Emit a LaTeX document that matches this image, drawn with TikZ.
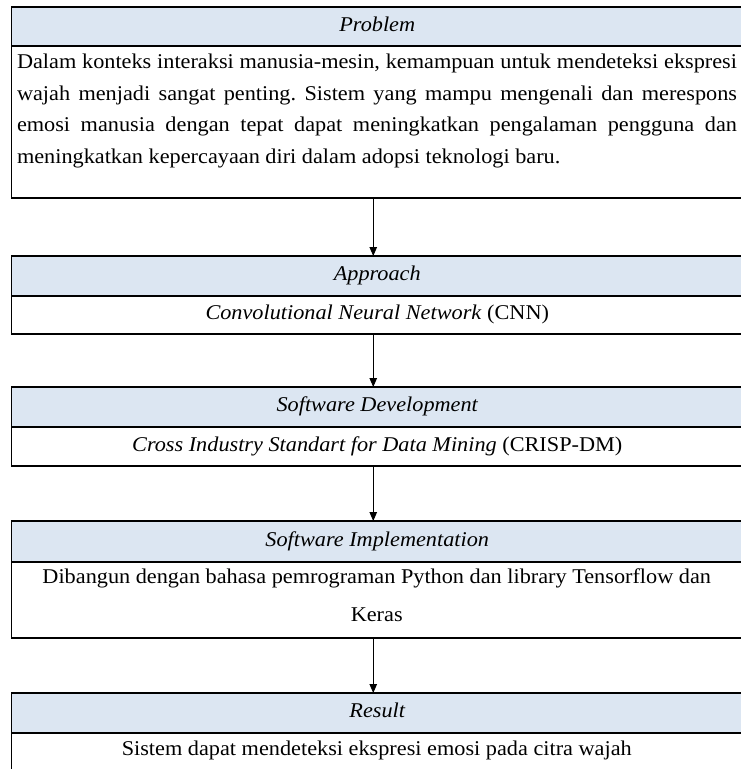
\documentclass[tikz,border=0pt]{standalone}
\usepackage{fontspec}
\setmainfont[FakeStretch=1.06]{Liberation Serif}
\usetikzlibrary{arrows.meta}
\definecolor{hdrblue}{HTML}{DCE6F2}
\frenchspacing
\begin{document}
\begin{tikzpicture}[x=1pt,y=-1pt,
  every node/.style={inner sep=0pt,outer sep=0pt},
  txt/.style={font=\fontsize{21pt}{31.5pt}\selectfont},
  hdr/.style={txt,fill=hdrblue,draw=black,line width=1.8pt,anchor=north west,
    minimum width=731.5pt,text height=14pt,text depth=4.5pt,font=\fontsize{21pt}{31.5pt}\selectfont\itshape},
  bdy/.style={txt,fill=white,draw=black,line width=1.8pt,anchor=north west,
    minimum width=731.5pt,text height=14pt,text depth=4.5pt},
  flow/.style={draw=black,line width=1pt,-{Triangle[length=9pt,width=7.5pt]}}]
\clip (0,0) rectangle (741,769);
\fill[white] (0,0) rectangle (741,769);

% Problem
\node[hdr,minimum height=39pt] (h1) at (11.5,7) {Problem};
\node[bdy,minimum height=152pt] (b1) at (11.5,46) {};
\node[txt,anchor=base west,text width=720pt,align=justify] (t1) at (17,68.5)
 {Dalam konteks interaksi manusia-mesin, kemampuan untuk mendeteksi ekspresi\linebreak
  wajah menjadi sangat penting. Sistem yang mampu mengenali dan merespons\linebreak
  emosi manusia dengan tepat dapat meningkatkan pengalaman pengguna dan\linebreak
  meningkatkan kepercayaan diri dalam adopsi teknologi baru.};

% Approach
\node[hdr,minimum height=40pt] (h2) at (11.5,256) {Approach};
\node[bdy,minimum height=38pt] (b2) at (11.5,296) {\textit{Convolutional Neural Network} (CNN)};

% Software Development
\node[hdr,minimum height=40pt] (h3) at (11.5,387) {Software Development};
\node[bdy,minimum height=39pt] (b3) at (11.5,427) {\textit{Cross Industry Standart for Data Mining} (CRISP-DM)};

% Software Implementation
\node[hdr,minimum height=41pt] (h4) at (11.5,521) {Software Implementation};
\node[bdy,minimum height=76pt] (b4) at (11.5,562) {};
\node[txt,anchor=base,align=center] (t4) at (376.75,621)
 {Dibangun dengan bahasa pemrograman Python dan library Tensorflow dan\\[6pt] Keras};

% Result
\node[hdr,minimum height=40pt] (h5) at (11.5,693) {Result};
\node[bdy,minimum height=80pt] (b5) at (11.5,733) {};
\node[txt,anchor=base] (t5) at (376.75,755) {Sistem dapat mendeteksi ekspresi emosi pada citra wajah};

% arrows
\draw[flow] ([xshift=-4pt]b1.south) -- ([xshift=-4pt]h2.north);
\draw[flow] ([xshift=-4pt]b2.south) -- ([xshift=-4pt]h3.north);
\draw[flow] ([xshift=-4pt]b3.south) -- ([xshift=-4pt]h4.north);
\draw[flow] ([xshift=-4pt]b4.south) -- ([xshift=-4pt]h5.north);
\end{tikzpicture}
\end{document}
